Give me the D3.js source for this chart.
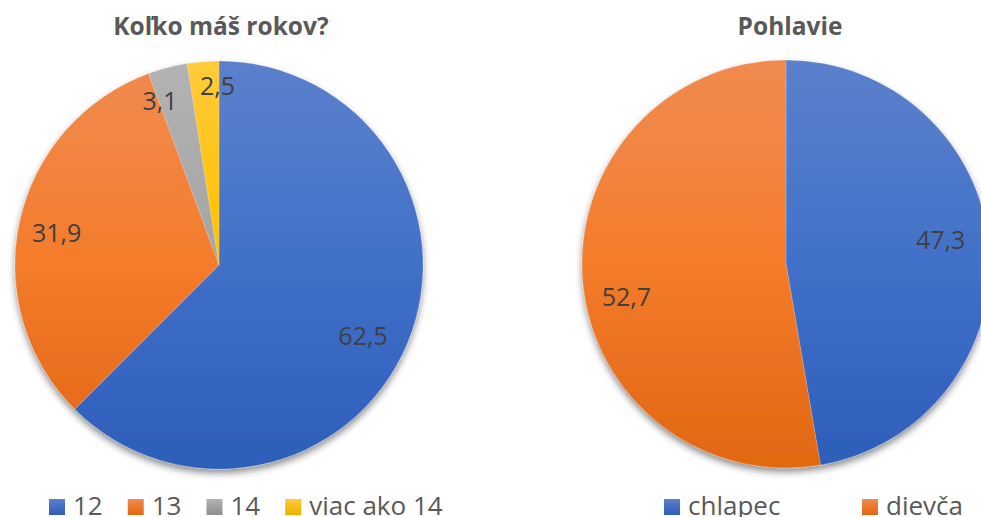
<!DOCTYPE html>
<html><head><meta charset="utf-8">
<script src="https://cdn.jsdelivr.net/npm/d3@7"></script>
<style>body{margin:0;background:#fff;overflow:hidden}svg{display:block}</style>
</head><body>
<svg id="c" width="981" height="517"></svg>
<script>
// ---- data ----
const ageCategories = ["12", "13", "14", "viac ako 14"];
const ageValues = [62.5, 31.9, 3.1, 2.5];
const ageTitle = "Koľko máš rokov?";
const genderCategories = ["chlapec", "dievča"];
const genderValues = [47.3, 52.7];
const genderTitle = "Pohlavie";

// ---- styling / layout (separate from data) ----
const stopOffsets = [0, 0.25, 0.5, 0.8, 1];
const palette = [
  ["#5b80cb", "#4f79cb", "#4170c8", "#3565c0", "#2c5eb8"],
  ["#f08a4f", "#f2843f", "#f47b29", "#e86e1e", "#e1680f"],
  ["#b3b3b3", "#ababab", "#a5a5a5", "#989898", "#8f8f8f"],
  ["#ffcb3a", "#ffc51a", "#ffc000", "#f5b800", "#ebb000"]
];
const R = 204;
const charts = [
  {title: ageTitle, cats: ageCategories, vals: ageValues, cx: 219, cy: 265, titleX: 221,
   legendX: 49, legendGap: 25, legendFixed: null,
   nudge: [[-3, 10], [-7, 2], [-19, -10], [11, -20]]},
  {title: genderTitle, cats: genderCategories, vals: genderValues, cx: 786, cy: 264, titleX: 790,
   legendX: 664, legendGap: 25, legendFixed: 198,
   nudge: [[-4, -11], [-1, 20]]}
];

const svg = d3.select("#c");
const defs = svg.append("defs");
const f = defs.append("filter").attr("id", "shadow").attr("x", "-20%").attr("y", "-20%").attr("width", "140%").attr("height", "140%");
f.append("feDropShadow").attr("dx", 0).attr("dy", 4).attr("stdDeviation", 3.5)
  .attr("flood-color", "#000").attr("flood-opacity", 0.45);

// legend gradients
palette.forEach((p, i) => {
  const g = defs.append("linearGradient").attr("id", `lg${i}`).attr("x1", 0).attr("y1", 0).attr("x2", 0).attr("y2", 1);
  g.append("stop").attr("offset", "0%").attr("stop-color", p[0]);
  g.append("stop").attr("offset", "100%").attr("stop-color", p[4]);
});

// pie gradients, in the local (centred) coordinates of each pie
palette.forEach((p, i) => {
  const g = defs.append("linearGradient").attr("id", `g${i}`)
    .attr("gradientUnits", "userSpaceOnUse")
    .attr("x1", 0).attr("y1", -R).attr("x2", 0).attr("y2", R);
  p.forEach((col, k) => g.append("stop").attr("offset", stopOffsets[k]).attr("stop-color", col));
});

const pie = d3.pie().sort(null).value(d => d);
const arc = d3.arc().innerRadius(0).outerRadius(R);
const labelArc = d3.arc().innerRadius(R * 0.78).outerRadius(R * 0.78);

charts.forEach((c, ci) => {
  svg.append("text").attr("x", c.titleX).attr("y", 35).attr("text-anchor", "middle")
    .attr("font-family", "Open Sans").attr("font-weight", "bold").attr("font-size", 24.5)
    .attr("fill", "#595959").text(c.title);

  const arcs = pie(c.vals);
  const g = svg.append("g").attr("transform", `translate(${c.cx},${c.cy})`);
  const gs = g.append("g").attr("filter", "url(#shadow)");
  gs.selectAll("path").data(arcs).join("path")
    .attr("d", arc)
    .attr("fill", (d, i) => `url(#g${i})`)
    .attr("stroke", "rgba(255,255,255,0.3)").attr("stroke-width", 0.6);

  g.selectAll("text.lab").data(arcs).join("text").attr("class", "lab")
    .attr("transform", (d, i) => {
      const [x, y] = labelArc.centroid(d);
      return `translate(${x + c.nudge[i][0]},${y + c.nudge[i][1]})`;
    })
    .attr("text-anchor", "middle").attr("dy", "0.36em")
    .attr("font-family", "Open Sans").attr("font-size", 25).attr("fill", "#404040")
    .text(d => String(d.data).replace(".", ","));

  let x = c.legendX;
  c.cats.forEach((name, i) => {
    svg.append("rect").attr("x", x).attr("y", 499).attr("width", 16).attr("height", 16)
      .attr("fill", `url(#lg${i})`);
    const t = svg.append("text").attr("x", x + 24).attr("y", 515)
      .attr("font-family", "Open Sans").attr("font-size", 26).attr("fill", "#595959").text(name);
    const w = t.node().getComputedTextLength();
    x = c.legendFixed ? x + c.legendFixed : x + 24 + w + c.legendGap;
  });
});
</script>
</body></html>
